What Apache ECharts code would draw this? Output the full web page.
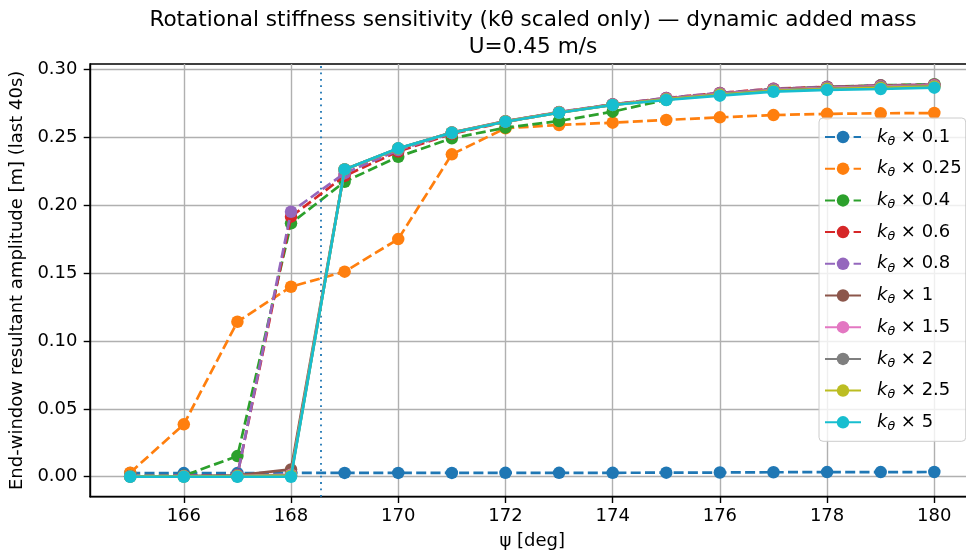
<!DOCTYPE html>
<html>
<head>
<meta charset="utf-8">
<script src="https://cdn.jsdelivr.net/npm/echarts@6/dist/echarts.min.js"></script>
<style>
  html, body { margin: 0; padding: 0; background: #ffffff; overflow: hidden; }
  #chart { width: 980px; height: 557px; }
</style>
</head>
<body>
<div id="chart"></div>
<script>
// Heading angle psi [deg]
const psi = [165, 166, 167, 168, 169, 170, 171, 172, 173, 174, 175, 176, 177, 178, 179, 180];

// Stiffness scale factors (legend labels)
const kFactors = ['0.1', '0.25', '0.4', '0.6', '0.8', '1', '1.5', '2', '2.5', '5'];

// End-window resultant amplitude [m] for each k_theta scale
const amp_k0_1  = [0.0027, 0.0027, 0.0027, 0.0028, 0.0028, 0.0028, 0.0028, 0.0029, 0.0029, 0.0029, 0.0030, 0.0031, 0.0033, 0.0034, 0.0034, 0.0035];
const amp_k0_25 = [0.0030, 0.0386, 0.1141, 0.1399, 0.1510, 0.1750, 0.2374, 0.2566, 0.2590, 0.2607, 0.2627, 0.2646, 0.2663, 0.2672, 0.2676, 0.2678];
const amp_k0_4  = [0.0005, 0.0008, 0.0152, 0.1866, 0.2172, 0.2356, 0.2492, 0.2570, 0.2619, 0.2688, 0.2776, 0.2818, 0.2852, 0.2870, 0.2882, 0.2890];
const amp_k0_6  = [0.0004, 0.0006, 0.0012, 0.1915, 0.2215, 0.2395, 0.2525, 0.2612, 0.2683, 0.2741, 0.2788, 0.2826, 0.2857, 0.2870, 0.2880, 0.2886];
const amp_k0_8  = [0.0004, 0.0006, 0.0012, 0.1951, 0.2235, 0.2405, 0.2530, 0.2617, 0.2686, 0.2743, 0.2789, 0.2826, 0.2856, 0.2871, 0.2881, 0.2887];
const amp_k1    = [0.0003, 0.0005, 0.0010, 0.0054, 0.2262, 0.2415, 0.2535, 0.2618, 0.2684, 0.2740, 0.2785, 0.2822, 0.2852, 0.2868, 0.2878, 0.2884];
const amp_k1_5  = [0.0002, 0.0003, 0.0005, 0.0015, 0.2263, 0.2416, 0.2534, 0.2617, 0.2683, 0.2739, 0.2783, 0.2820, 0.2849, 0.2864, 0.2874, 0.2880];
const amp_k2    = [0.0001, 0.0002, 0.0004, 0.0010, 0.2263, 0.2417, 0.2534, 0.2616, 0.2682, 0.2738, 0.2780, 0.2816, 0.2845, 0.2860, 0.2869, 0.2876];
const amp_k2_5  = [0.0001, 0.0002, 0.0003, 0.0008, 0.2263, 0.2417, 0.2533, 0.2615, 0.2681, 0.2738, 0.2778, 0.2812, 0.2841, 0.2855, 0.2863, 0.2872];
const amp_k5    = [0.0000, 0.0000, 0.0000, 0.0000, 0.2263, 0.2418, 0.2533, 0.2614, 0.2680, 0.2737, 0.2774, 0.2806, 0.2835, 0.2848, 0.2855, 0.2865];

const ampSeries = [amp_k0_1, amp_k0_25, amp_k0_4, amp_k0_6, amp_k0_8, amp_k1, amp_k1_5, amp_k2, amp_k2_5, amp_k5];

// Reference heading marked with a dotted vertical line
const psiRef = 168.56;

// Tick labels
const xTicks = [166, 168, 170, 172, 174, 176, 178, 180];
const yTicks = [0, 0.05, 0.10, 0.15, 0.20, 0.25, 0.30];

const palette = ['#1f77b4', '#ff7f0e', '#2ca02c', '#d62728', '#9467bd',
                 '#8c564b', '#e377c2', '#7f7f7f', '#bcbd22', '#17becf'];
const FONT = 'DejaVu Sans';

const series = ampSeries.map((vals, i) => {
  const dashed = i < 5;
  const s = {
    name: kFactors[i],
    type: 'line',
    z: 2 + i,
    data: psi.map((x, j) => [x, vals[j]]),
    symbol: 'circle',
    symbolSize: 12.5,
    showAllSymbol: true,
    animation: false,
    itemStyle: { color: palette[i] },
    lineStyle: {
      color: palette[i],
      width: 2.7,
      type: dashed ? [10, 4.3] : 'solid'
    },
    emphasis: { disabled: true }
  };
  if (i === 0) {
    s.markLine = {
      silent: true,
      symbol: 'none',
      animation: false,
      label: { show: false },
      lineStyle: { color: '#1f77b4', width: 1.8, type: [1.8, 4.6] },
      data: [{ xAxis: psiRef }]
    };
  }
  return s;
});

const chart = echarts.init(document.getElementById('chart'), null, { renderer: 'canvas' });

chart.setOption({
  animation: false,
  backgroundColor: '#ffffff',
  textStyle: { fontFamily: FONT },
  title: {
    text: 'Rotational stiffness sensitivity (k\u03b8 scaled only) \u2014 dynamic added mass\nU=0.45 m/s',
    left: 533,
    top: 7,
    padding: 0,
    textAlign: 'center',
    textStyle: {
      fontFamily: FONT,
      fontSize: 21.6,
      fontWeight: 'normal',
      color: '#000000',
      lineHeight: 27
    }
  },
  grid: {
    left: 90,
    top: 64,
    width: 884.5,
    height: 432.7,
    show: true,
    borderColor: '#000000',
    borderWidth: 1.4,
    backgroundColor: 'transparent',
    containLabel: false
  },
  xAxis: {
    type: 'value',
    min: 164.25,
    max: 180.75,
    name: '\u03c8 [deg]',
    nameLocation: 'middle',
    nameGap: 36,
    nameTextStyle: { fontFamily: FONT, fontSize: 18, color: '#000000' },
    axisLine: { show: true, onZero: false, lineStyle: { color: '#000000', width: 1.4 } },
    axisTick: { show: true, inside: false, length: 6.3, lineStyle: { color: '#000000', width: 1.4 }, customValues: xTicks },
    axisLabel: { fontFamily: FONT, fontSize: 18, color: '#000000', margin: 11, customValues: xTicks,
                 formatter: v => String(v) },
    splitLine: { show: true, lineStyle: { color: '#b0b0b0', width: 1.4 } }
  },
  yAxis: {
    type: 'value',
    min: -0.0147,
    max: 0.3039,
    name: 'End-window resultant amplitude [m] (last 40s)',
    nameLocation: 'middle',
    nameRotate: 90,
    nameGap: 58,
    nameTextStyle: { fontFamily: FONT, fontSize: 18, color: '#000000' },
    axisLine: { show: true, onZero: false, lineStyle: { color: '#000000', width: 1.4 } },
    axisTick: { show: true, inside: false, length: 6.3, lineStyle: { color: '#000000', width: 1.4 }, customValues: yTicks },
    axisLabel: { fontFamily: FONT, fontSize: 18, color: '#000000', margin: 12.5, customValues: yTicks,
                 formatter: v => v.toFixed(2) },
    splitLine: { show: true, lineStyle: { color: '#b0b0b0', width: 1.4 } }
  },
  legend: {
    orient: 'vertical',
    left: 819,
    top: 118,
    padding: [8, 4, 8, 5],
    itemWidth: 36,
    itemHeight: 15.6,
    itemGap: 9.7,
    backgroundColor: 'rgba(255,255,255,0.8)',
    borderColor: '#cccccc',
    borderWidth: 1,
    borderRadius: 4,
    data: kFactors,
    formatter: name => '{k|k}{t|\u03b8}{r| \u00d7 ' + name + '}',
    textStyle: {
      fontFamily: FONT,
      fontSize: 18,
      color: '#000000',
      lineHeight: 22,
      rich: {
        k: { fontFamily: FONT, fontStyle: 'italic', fontSize: 18, color: '#000000', padding: [0, 0, 0, 11], lineHeight: 22 },
        t: { fontFamily: FONT, fontStyle: 'italic', fontSize: 12.6, color: '#000000', padding: [9, 0, 0, 0], lineHeight: 22 },
        r: { fontFamily: FONT, fontSize: 18, color: '#000000', lineHeight: 22 }
      }
    }
  },
  series: series
});
</script>
</body>
</html>
